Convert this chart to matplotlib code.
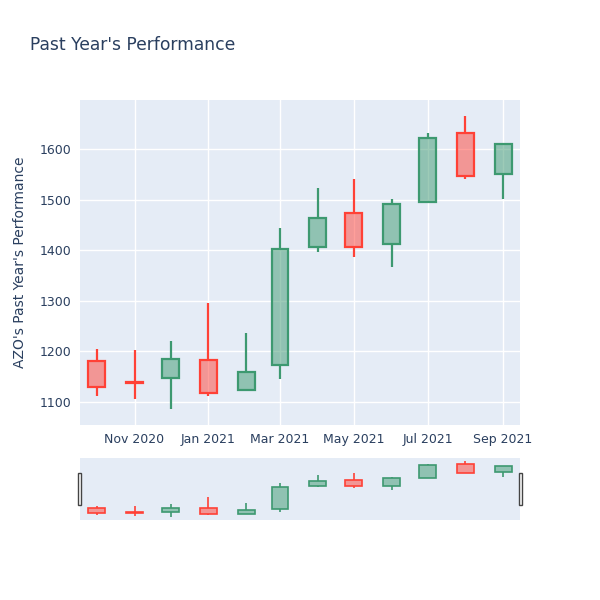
import numpy as np
import pandas as pd
import matplotlib
matplotlib.use("Agg")
import matplotlib.pyplot as plt
import matplotlib.dates as mdates
from matplotlib.patches import Rectangle

# monthly candles
months = pd.date_range("2020-10-01", periods=12, freq="MS")
opens = [1181, 1139, 1147, 1183, 1124, 1172, 1407, 1474, 1412, 1496, 1632, 1551]
closes = [1130, 1137, 1184, 1117, 1159, 1402, 1463, 1406, 1491, 1622, 1547, 1610]
highs = [1205, 1203, 1220, 1296, 1236, 1444, 1523, 1541, 1502, 1632, 1665, 1612]
lows = [1112, 1106, 1086, 1112, 1123, 1145, 1396, 1387, 1367, 1496, 1540, 1502]

ticks = pd.to_datetime(["2020-11-01", "2021-01-01", "2021-03-01", "2021-05-01", "2021-07-01", "2021-09-01"])
tick_labels = ["Nov 2020", "Jan 2021", "Mar 2021", "May 2021", "Jul 2021", "Sep 2021"]

UP = "#3D9970"
DOWN = "#FF4136"
BG = "#E5ECF6"
TXT = "#2a3f5f"

xlim = (pd.Timestamp("2020-09-17"), pd.Timestamp("2021-09-15"))
ylim = (1054, 1697)


def candles(ax, lw):
    o = np.array(opens, dtype=float)
    c = np.array(closes, dtype=float)
    h = np.array(highs, dtype=float)
    l = np.array(lows, dtype=float)
    cols = [UP if cc >= oo else DOWN for oo, cc in zip(o, c)]
    top = np.maximum(o, c)
    bot = np.minimum(o, c)
    ax.vlines(months, top, h, colors=cols, lw=lw, zorder=3)
    ax.vlines(months, l, bot, colors=cols, lw=lw, zorder=3)
    for d, b, t, col in zip(months, bot, top, cols):
        ax.bar(d, max(t - b, 0.5), bottom=b, width=14, color=col, alpha=0.5,
               linewidth=0, zorder=3)
        ax.bar(d, max(t - b, 0.5), bottom=b, width=14, facecolor="none",
               edgecolor=col, linewidth=lw, zorder=4)


fig = plt.figure(figsize=(6, 6), dpi=100)
ax = fig.add_axes([80 / 600, 1 - 425 / 600, 440 / 600, 325 / 600])
ax.set_facecolor(BG)
candles(ax, 1.6)
ax.set_xlim(*xlim)
ax.set_ylim(*ylim)
ax.set_xticks(ticks)
ax.set_xticklabels(tick_labels)
ax.set_yticks([1100, 1200, 1300, 1400, 1500, 1600])
ax.grid(True, color="white", lw=1, zorder=0)
ax.set_axisbelow(True)
for s in ax.spines.values():
    s.set_visible(False)
ax.tick_params(length=0, labelsize=9, colors=TXT, pad=6)
ax.set_ylabel("AZO's Past Year's Performance", fontsize=10, color=TXT, labelpad=9)

fig.text(30 / 600, 1 - 45 / 600, "Past Year's Performance", fontsize=12.3, color=TXT,
         va="center", ha="left")

# range slider
rs = fig.add_axes([80 / 600, 1 - 520 / 600, 440 / 600, 62 / 600])
rs.set_facecolor(BG)
candles(rs, 1.2)
rs.set_xlim(*xlim)
rs.set_ylim(1060, 1697)
rs.set_xticks([])
rs.set_yticks([])
for s in rs.spines.values():
    s.set_visible(False)
for hx in (77.5 / 600, 518.5 / 600):
    fig.patches.append(Rectangle((hx, 1 - 505 / 600), 3.5 / 600, 32 / 600,
                                 transform=fig.transFigure, facecolor="white",
                                 edgecolor="#444444", lw=1))

fig.savefig("out.png", dpi=100)
